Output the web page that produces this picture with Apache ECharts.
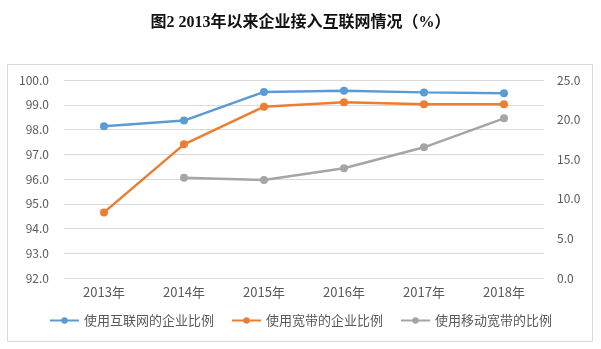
<!DOCTYPE html>
<html><head><meta charset="utf-8">
<script src="https://cdn.jsdelivr.net/npm/echarts@6/dist/echarts.min.js"></script>
<style>html,body{margin:0;padding:0;background:#fff}#c{width:601px;height:349px}</style>
</head><body><div id="c"></div>
<script>
const categories = ['2013年','2014年','2015年','2016年','2017年','2018年'];
const internetShare = [98.13, 98.36, 99.52, 99.57, 99.50, 99.46];
const broadbandShare = [94.65, 97.40, 98.92, 99.10, 99.02, 99.02];
const mobileBroadbandShare = [null, 12.66, 12.37, 13.85, 16.5, 20.16];
const seriesNames = ['使用互联网的企业比例','使用宽带的企业比例','使用移动宽带的比例'];
const titleText = '图2 2013年以来企业接入互联网情况（%）';

const chart = echarts.init(document.getElementById('c'), null, {renderer:'canvas'});
const font = "'Noto Sans CJK SC', sans-serif";
const labelColor = '#595959';
const mkLine = (name, data, color, yIdx) => ({
  name, type:'line', data, yAxisIndex:yIdx, symbol:'circle', symbolSize:8,
  lineStyle:{color, width:2.5}, itemStyle:{color}, connectNulls:false
});
chart.setOption({
  animation:false,
  title:{text:titleText, left:'center', top:10,
    textStyle:{fontFamily:"'Liberation Serif','Noto Sans CJK SC',serif", fontWeight:'bold', fontSize:16, color:'#111'}},
  graphic:[{type:'rect', shape:{x:7.5,y:64.5,width:585,height:277},
    style:{fill:'none', stroke:'#D9D9D9', lineWidth:1}, z:-1}],
  grid:{left:64, right:57, top:80, bottom:71},
  legend:{bottom:17, left:'center', itemWidth:29, itemHeight:8, itemGap:17,
    textStyle:{fontFamily:font, fontSize:13, color:labelColor},
    data:seriesNames},
  xAxis:{type:'category', data:categories, boundaryGap:true,
    axisLine:{show:false}, axisTick:{show:false},
    axisLabel:{fontFamily:font, fontSize:13, color:labelColor, margin:8}},
  yAxis:[
    {type:'value', min:92, max:100, interval:1,
      axisLine:{show:false}, axisTick:{show:false},
      axisLabel:{fontFamily:font, fontSize:12, color:labelColor, margin:15,
        formatter:v=>v.toFixed(1)},
      splitLine:{lineStyle:{color:'#D9D9D9', width:1}}},
    {type:'value', min:0, max:25, interval:5, position:'right',
      axisLine:{show:false}, axisTick:{show:false},
      axisLabel:{fontFamily:font, fontSize:12, color:labelColor, margin:13,
        formatter:v=>v.toFixed(1)},
      splitLine:{show:false}}
  ],
  series:[
    mkLine(seriesNames[0], internetShare, '#5B9BD5', 0),
    mkLine(seriesNames[1], broadbandShare, '#ED7D31', 0),
    mkLine(seriesNames[2], mobileBroadbandShare, '#A5A5A5', 1)
  ]
});
</script></body></html>
